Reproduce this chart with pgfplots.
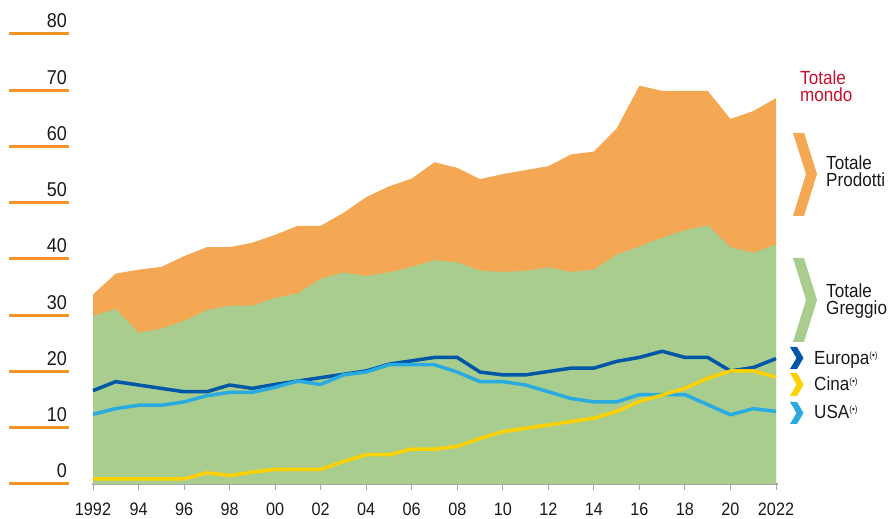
\documentclass[border=0pt]{standalone}
\usepackage{fontspec}
\setmainfont[FakeStretch=0.9]{Liberation Sans}
\usepackage{pgfplots}
\pgfplotsset{compat=1.18}
\usepackage{pgfplotstable}

\definecolor{prodotti}{HTML}{F5A854}
\definecolor{greggio}{HTML}{A9CD8E}
\definecolor{europa}{HTML}{0057A8}
\definecolor{usa}{HTML}{29ABE2}
\definecolor{cina}{HTML}{FFD100}
\definecolor{tickorange}{HTML}{F39325}
\definecolor{mondo}{HTML}{C8102E}
\definecolor{axgray}{HTML}{A6A6A6}
\definecolor{txt}{HTML}{1A1A1A}

\pgfplotstableread{
year mondo greggio europa usa cina
1992 33.7 29.9 16.6 12.4 0.9
1993 37.4 31.1 18.2 13.4 0.9
1994 38.1 26.9 17.6 14.0 0.9
1995 38.6 27.6 17.0 14.0 0.9
1996 40.5 29.0 16.4 14.6 0.9
1997 42.1 30.9 16.4 15.7 2.0
1998 42.1 31.7 17.6 16.3 1.5
1999 42.9 31.7 17.0 16.3 2.1
2000 44.3 33.1 17.7 17.2 2.6
2001 45.9 33.9 18.3 18.3 2.6
2002 45.9 36.5 18.9 17.7 2.6
2003 48.2 37.6 19.5 19.4 4.0
2004 51.0 37.0 20.1 19.9 5.2
2005 52.9 37.6 21.3 21.2 5.2
2006 54.3 38.6 21.9 21.2 6.2
2007 57.2 39.8 22.5 21.2 6.2
2008 56.2 39.4 22.5 19.9 6.7
2009 54.2 37.9 19.9 18.2 8.1
2010 55.1 37.7 19.4 18.2 9.3
2011 55.8 37.9 19.4 17.6 9.9
2012 56.5 38.5 20.0 16.4 10.5
2013 58.6 37.7 20.6 15.2 11.1
2014 59.1 38.1 20.6 14.6 11.7
2015 63.2 40.8 21.8 14.6 12.9
2016 70.8 42.2 22.5 15.9 14.7
2017 69.9 43.8 23.6 15.9 15.8
2018 69.9 45.1 22.5 15.9 17.0
2019 69.9 46.0 22.5 14.1 18.8
2020 64.9 42.1 20.1 12.3 20.1
2021 66.3 41.1 20.7 13.4 20.1
2022 68.6 42.6 22.3 12.9 19.0
}\data

\begin{document}
\begin{tikzpicture}[x=1pt,y=1pt]
\begin{axis}[
  at={(93pt,35pt)}, anchor=south west,
  scale only axis, width=683pt, height=450pt,
  xmin=1992, xmax=2022, ymin=0, ymax=80,
  clip=false,
  axis x line*=bottom, axis y line=none,
  x axis line style={-, draw=axgray, line width=2.5pt, shorten <=-1.5pt, shorten >=-2pt},
  xtick={1992,1994,...,2022},
  xticklabels={1992,94,96,98,00,02,04,06,08,10,12,14,16,18,20,2022},
  tick align=outside, major tick length=6pt,
  xtick style={draw=axgray, line width=1pt},
  xticklabel style={font=\fontsize{18}{18}\selectfont, text=txt, anchor=north,
    text height=13pt, text depth=0pt, inner sep=0pt, yshift=-12pt},
  ytick=\empty,
]
\addplot[fill=prodotti, draw=none] table[x=year,y=mondo]{\data} \closedcycle;
\addplot[fill=greggio, draw=none] table[x=year,y=greggio]{\data} \closedcycle;
\addplot[europa, line width=3.5pt, line join=round] table[x=year,y=europa]{\data};
\addplot[usa, line width=3.5pt, line join=round] table[x=year,y=usa]{\data};
\addplot[cina, line width=3.5pt, line join=round] table[x=year,y=cina]{\data};
\end{axis}

% y scale: orange rules and labels
\foreach \v in {0,10,...,80}{
  \pgfmathsetmacro{\yy}{35+\v*5.625}
  \draw[tickorange, line width=3pt] (9,\yy) -- (69,\yy);
  \node[anchor=base east, inner sep=0pt, text=txt, font=\fontsize{20}{20}\selectfont] at (67,\yy+6) {\v};
}

% legend chevrons
\fill[prodotti] (793,386) -- (804,386) -- (817,345) -- (804,303) -- (793,303) -- (806,345) -- cycle;
\fill[greggio] (793,261) -- (804,261) -- (817,219) -- (804,177) -- (793,177) -- (806,219) -- cycle;
\fill[europa] (790,172) -- (797,172) -- (803.5,161) -- (797,150) -- (790,150) -- (796.5,161) -- cycle;
\fill[cina] (790,146) -- (797,146) -- (803.5,134.5) -- (797,123) -- (790,123) -- (796.5,134.5) -- cycle;
\fill[usa] (790,117) -- (797,117) -- (803.5,106) -- (797,95) -- (790,95) -- (796.5,106) -- cycle;

% legend texts
\begin{scope}[every node/.style={inner sep=0pt, anchor=base west, font=\fontsize{19}{17.5}\selectfont, text=txt, align=left}]
\node[text=mondo] at (800,417) {Totale\\mondo};
\node at (826,332.3) {Totale\\Prodotti};
\node at (826,204) {Totale\\Greggio};
\node at (814,154) {Europa\raisebox{6pt}{\fontsize{9}{9}\selectfont(•)}};
\node at (814,128.3) {Cina\raisebox{6pt}{\fontsize{9}{9}\selectfont(•)}};
\node at (814,100.7) {USA\raisebox{6pt}{\fontsize{9}{9}\selectfont(•)}};
\end{scope}

\pgfresetboundingbox
\useasboundingbox (0,0) rectangle (894,519);
\end{tikzpicture}
\end{document}
